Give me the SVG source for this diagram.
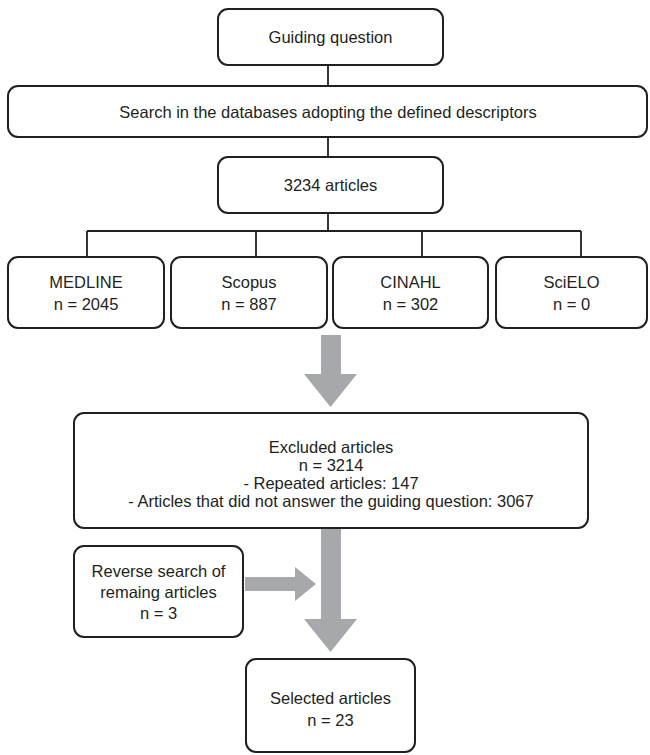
<svg xmlns="http://www.w3.org/2000/svg" width="650" height="755" viewBox="0 0 650 755">
<style>
.box{fill:#fff;stroke:#231f20;stroke-width:2}
.t{font-family:"Liberation Sans",Arial,sans-serif;font-size:16.5px;fill:#231f20;text-anchor:middle}
.ln{fill:none;stroke:#231f20;stroke-width:1.8}
.arr{fill:#a6a8ab;stroke:none}
</style>
<rect width="650" height="755" fill="#fff"/>
<g id="connectors">
<path class="ln" d="M328,65V86M328,137V157M328,213V231M87,231H581M87,231V257M256,231V257M422,231V257M581,231V257"/>
<polygon class="arr" points="321,335 341,335 341,374 357,374 330.5,407 304,374 321,374"/>
<polygon class="arr" points="321,528 341,528 341,619 357,619 330.5,652 304,619 321,619"/>
<polygon class="arr" points="245,577 295,577 295,567 316,584 295,601 295,591 245,591"/>
</g>
<g id="guiding">
<rect class="box" x="218" y="9" width="225" height="56" rx="10"/>
<text class="t" x="330.5" y="43">Guiding question</text>
</g>
<g id="search">
<rect class="box" x="8" y="86" width="639" height="51" rx="10"/>
<text class="t" x="328" y="118">Search in the databases adopting the defined descriptors</text>
</g>
<g id="articles">
<rect class="box" x="218" y="157" width="225" height="56" rx="10"/>
<text class="t" x="330.5" y="191">3234 articles</text>
</g>
<g id="medline">
<rect class="box" x="8" y="257" width="156" height="71" rx="10"/>
<text class="t" x="86" y="288">MEDLINE</text>
<text class="t" x="86" y="310">n = 2045</text>
</g>
<g id="scopus">
<rect class="box" x="171" y="257" width="156" height="71" rx="10"/>
<text class="t" x="249" y="288">Scopus</text>
<text class="t" x="249" y="310">n = 887</text>
</g>
<g id="cinahl">
<rect class="box" x="333" y="257" width="155" height="71" rx="10"/>
<text class="t" x="410.5" y="288">CINAHL</text>
<text class="t" x="410.5" y="310">n = 302</text>
</g>
<g id="scielo">
<rect class="box" x="496" y="257" width="151" height="71" rx="10"/>
<text class="t" x="571.5" y="288">SciELO</text>
<text class="t" x="571.5" y="310">n = 0</text>
</g>
<g id="excluded">
<rect class="box" x="74" y="413" width="514" height="115" rx="10"/>
<text class="t" x="331" y="453">Excluded articles</text>
<text class="t" x="331" y="471">n = 3214</text>
<text class="t" x="331" y="489">- Repeated articles: 147</text>
<text class="t" x="331" y="507">- Articles that did not answer the guiding question: 3067</text>
</g>
<g id="reverse">
<rect class="box" x="74" y="546" width="169" height="91" rx="10"/>
<text class="t" x="158.5" y="577">Reverse search of</text>
<text class="t" x="158.5" y="598">remaing articles</text>
<text class="t" x="158.5" y="619">n = 3</text>
</g>
<g id="selected">
<rect class="box" x="246" y="659" width="169" height="93" rx="10"/>
<text class="t" x="330.5" y="704">Selected articles</text>
<text class="t" x="330.5" y="726">n = 23</text>
</g>
</svg>
